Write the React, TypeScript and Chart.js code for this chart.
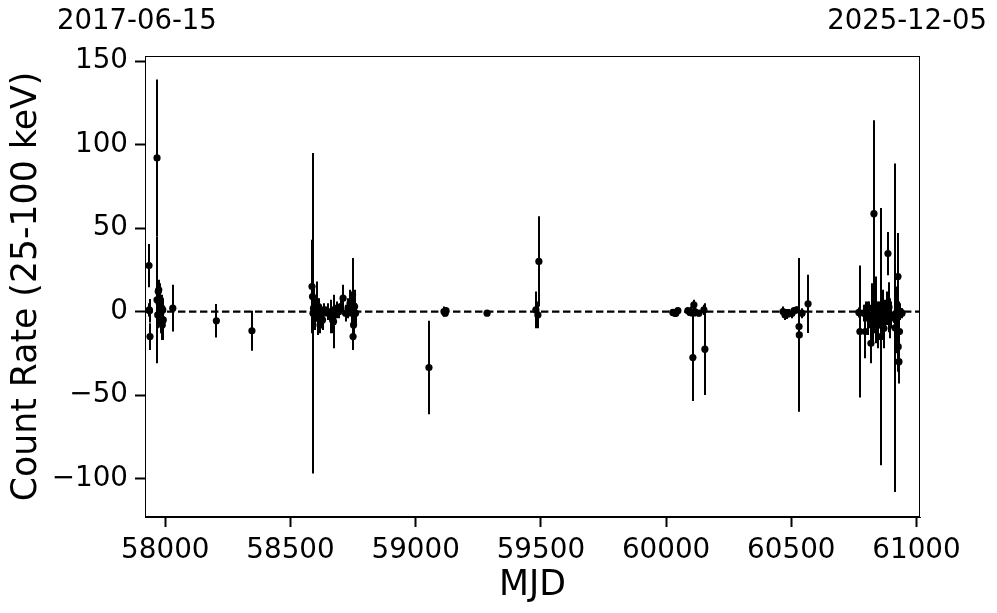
import React, { useEffect, useRef } from "react";
import { Chart, registerables } from "chart.js";

Chart.register(...registerables);

// Observation epochs (MJD)
const mjd = [
  57935, 57936, 57937, 57939, 57967, 57967, 57970, 57972, 57974, 57976, 57978, 57980, 57982, 57984, 57986, 57988, 57990, 57992, 58030, 58204, 58346,
  58586, 58590, 58588, 58592, 58596, 58600, 58604, 58608, 58612, 58618, 58622, 58628, 58634, 58640, 58650, 58660, 58668, 58672, 58678, 58686, 58694, 58700, 58710, 58720, 58730, 58738, 58744, 58748, 58750, 58752, 58756, 58760,
  59053, 59113, 59118, 59121, 59285, 59480, 59488, 59492,
  60027, 60035, 60039, 60047, 60087, 60095, 60099, 60107, 60111, 60115, 60131, 60151, 60155,
  60467, 60475, 60483, 60491, 60503, 60511, 60521, 60531, 60532, 60543, 60567,
  60770, 60774, 60790, 60796, 60800, 60806, 60812, 60818, 60822, 60828, 60830, 60834, 60840, 60846, 60852, 60858, 60862, 60866, 60870, 60876, 60882, 60886, 60890, 60894, 60900, 60914, 60918, 60926, 60927, 60930, 60932, 60936, 60942,
];
// Count rate (25-100 keV)
const rate = [
  27.5, 1, 0.5, -15, 92, 7, -2, 12, 13, 5, -3, 7, -1, -4, 2, -8, 1, -5, 2, -5.5, -11.5,
  15, -1, 9, 2, -3, 1, 6, -4, 3, -8, -2, -5, 1, 0, 0, -3, -5, -6, -2, 1, 0, 3, 8, -1, 2, 5, 0, 10, -15, -8, 3, -1,
  -33.5, 0, -1, 0.5, -1, 1, -2, 30,
  -0.5, -1, -1, 0.5, 0.5, -0.5, 0, -27.5, 4, 0, -1, 1, -22.5,
  0, -2, -1.5, -1, -1, 0.5, 1, -9, -14, -1, 4.6,
  -0.5, -12, -1, -12, 1, -4, -2, -19, 2, -6, 58.6, -3, 1, -8, -2, -15, -5, 3, -10, -1, 2, 34.7, 2.6, -4, -2, -9.7, -5, 21, -21, -30, -12, 0, -1,
];
// 1-sigma uncertainty
const rateErr = [
  13, 4, 7, 8, 47, 38, 8, 6, 6, 8, 5, 10, 6, 9, 8, 9, 7, 12, 14, 10, 12,
  28, 96, 10, 12, 8, 6, 12, 10, 5, 5, 6, 6, 4, 3, 5, 10, 8, 16, 6, 5, 4, 4, 8, 5, 6, 8, 9, 22, 8, 8, 10, 6,
  28, 3, 2, 2, 1.5, 11, 8, 27,
  2, 2, 2, 2, 2, 2, 3, 26, 3, 3, 2, 3, 27.5,
  3, 3, 3, 2.5, 3, 2, 2, 6, 46, 3, 17.5,
  3, 39.5, 5, 16, 5, 10, 8, 12, 15, 12, 56, 10, 20, 14, 8, 77, 12, 10, 12, 8, 10, 13, 15, 12, 8, 98.4, 20, 26, 15, 13, 18, 5, 3,
];

const xTicks = [58000, 58500, 59000, 59500, 60000, 60500, 61000];
const yTicks = [-100, -50, 0, 50, 100, 150];
const xMin = 57919;
const xMax = 61014;
const yMin = -123;
const yMax = 153;
const startDateLabel = "2017-06-15";
const endDateLabel = "2025-12-05";

const FONT = "'DejaVu Sans', sans-serif";

const errorBarPlugin = {
  id: "errorBars",
  beforeDatasetsDraw(chart: any) {
    const { ctx, chartArea, scales } = chart;
    const xs = scales.x;
    const ys = scales.y;
    ctx.save();
    ctx.beginPath();
    ctx.rect(chartArea.left, chartArea.top, chartArea.right - chartArea.left, chartArea.bottom - chartArea.top);
    ctx.clip();
    ctx.strokeStyle = "#000";
    ctx.lineWidth = 2;
    for (let i = 0; i < mjd.length; i++) {
      const x = Math.round(xs.getPixelForValue(mjd[i]));
      const y1 = ys.getPixelForValue(rate[i] - rateErr[i]);
      const y2 = ys.getPixelForValue(rate[i] + rateErr[i]);
      ctx.beginPath();
      ctx.moveTo(x, y1);
      ctx.lineTo(x, y2);
      ctx.stroke();
    }
    ctx.restore();
  },
  afterDraw(chart: any) {
    const { ctx, chartArea } = chart;
    ctx.save();
    ctx.strokeStyle = "#000";
    ctx.lineWidth = 1;
    ctx.strokeRect(chartArea.left + 0.5, chartArea.top + 0.5, chartArea.right - chartArea.left - 1, chartArea.bottom - chartArea.top - 1);
    ctx.fillStyle = "#000";
    ctx.font = `27.5px ${FONT}`;
    ctx.textBaseline = "middle";
    ctx.textAlign = "left";
    ctx.fillText(startDateLabel, 57, 22);
    ctx.textAlign = "right";
    ctx.fillText(endDateLabel, 987, 22);
    ctx.restore();
  },
};

export default function App() {
  const ref = useRef<HTMLCanvasElement | null>(null);
  useEffect(() => {
    if (!ref.current) return;
    const points = mjd.map((m, i) => ({ x: m, y: rate[i] }));
    const chart = new Chart(ref.current, {
      type: "scatter",
      data: {
        datasets: [
          {
            type: "line",
            data: [
              { x: xMin, y: 0 },
              { x: xMax, y: 0 },
            ],
            borderColor: "#000",
            borderWidth: 2.2,
            borderDash: [7.4, 3.6],
            pointRadius: 0,
            fill: false,
          } as any,
          {
            data: points,
            backgroundColor: "#000",
            borderColor: "#000",
            pointRadius: 3.6,
            pointBorderWidth: 0,
          },
        ],
      },
      options: {
        animation: false,
        responsive: false,
        devicePixelRatio: 1,
        layout: { padding: { left: 0, right: 77, top: 56, bottom: 0 } },
        plugins: { legend: { display: false }, tooltip: { enabled: false } },
        scales: {
          x: {
            type: "linear",
            min: xMin,
            max: xMax,
            afterBuildTicks: (s: any) => {
              s.ticks = xTicks.map((v) => ({ value: v }));
            },
            afterFit: (s: any) => {
              s.height = 96;
            },
            grid: { drawOnChartArea: false, drawTicks: true, tickLength: 10, tickWidth: 2, tickColor: "#000" },
            border: { display: true, color: "#000", width: 1 },
            ticks: {
              color: "#000",
              font: { family: FONT, size: 27.8 },
              padding: 7,
              maxRotation: 0,
              autoSkip: false,
              callback: (v: any) => String(v),
            },
            title: {
              display: true,
              text: "MJD",
              color: "#000",
              font: { family: FONT, size: 34.7 },
              padding: { top: 0, bottom: 6 },
            },
          },
          y: {
            type: "linear",
            min: yMin,
            max: yMax,
            afterBuildTicks: (s: any) => {
              s.ticks = yTicks.map((v) => ({ value: v }));
            },
            afterFit: (s: any) => {
              s.width = 145;
            },
            grid: { drawOnChartArea: false, drawTicks: true, tickLength: 10, tickWidth: 2, tickColor: "#000" },
            border: { display: true, color: "#000", width: 1 },
            ticks: {
              color: "#000",
              font: { family: FONT, size: 27.8 },
              padding: 7,
              autoSkip: false,
              callback: (v: any) => String(v).replace("-", "\u2212"),
            },
            title: {
              display: true,
              text: "Count Rate (25-100 keV)",
              color: "#000",
              font: { family: FONT, size: 34.7 },
              padding: { top: 6, bottom: 0 },
            },
          },
        },
      },
      plugins: [errorBarPlugin],
    });
    return () => chart.destroy();
  }, []);
  return (
    <div style={{ position: "fixed", left: 0, top: 0, width: 997, height: 613, background: "#fff" }}>
      <canvas ref={ref} width={997} height={613} style={{ display: "block" }} />
    </div>
  );
}
